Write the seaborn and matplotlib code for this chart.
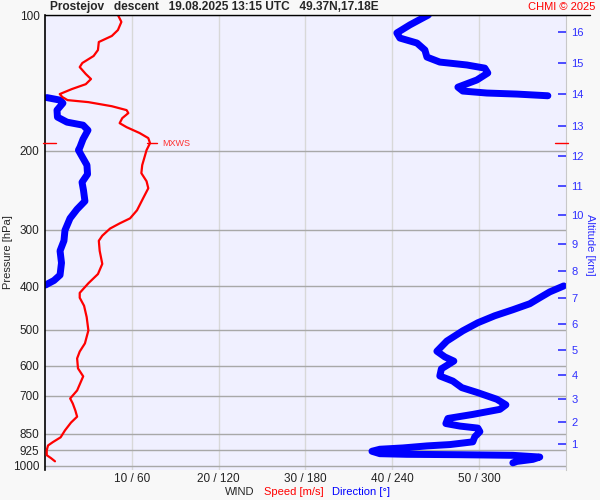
import numpy as np
import pandas as pd
import seaborn as sns
import matplotlib.pyplot as plt
from matplotlib.lines import Line2D
from matplotlib.ticker import FixedLocator, NullLocator

# header info
station = "Prostejov"
kind = "descent"
stamp = "19.08.2025 13:15 UTC"
position = "49.37N,17.18E"

# wind speed profile
speed_p = [100, 103.6, 108, 111.3, 114.8, 119.6, 123.3, 127.8, 130.5, 135.2,
           138.7, 142.4, 146.0, 149.8, 152.1, 154.5, 156.1, 159.4, 162.6, 165.1,
           169.4, 173.8, 177.4, 182.8, 187.6, 192.5, 199.5, 215.4, 224.4, 233.9,
           242.4, 255.2, 271.3, 282.7, 290.1, 297.8, 308.9, 317.0, 333.8, 356.8,
           375.8, 393.9, 413.8, 424.2, 441.9, 468.2, 501.2, 535.6, 558.4, 578.4,
           608.5, 633.9, 681.3, 709.8, 728.4, 755.2, 779.0, 802.6, 835.6, 865.6,
           887.3, 902.4, 924.6, 948.4, 963.1, 978.5]
speed_ms = [8.4, 8.8, 8.4, 7.7, 6.2, 6.1, 5.6, 4.3, 4.0, 4.7,
            5.3, 4.7, 3.1, 1.7, 2.0, 2.6, 5.0, 7.7, 9.4, 9.6,
            8.9, 8.6, 9.4, 10.9, 11.9, 12.1, 11.7, 11.2, 11.1, 11.7,
            11.9, 11.3, 10.6, 9.8, 8.6, 7.5, 6.6, 6.2, 6.3, 6.6,
            6.1, 5.0, 4.0, 4.0, 4.5, 4.8, 5.0, 4.6, 4.0, 3.7,
            3.8, 4.4, 3.7, 2.9, 3.2, 3.5, 3.7, 3.0, 2.3, 1.8,
            0.9, 0.35, 0.2, 0.2, 0.7, 1.15]

# wind direction profile
dir_p = [100, 101.5, 105.2, 109.6, 112.5, 115.4, 119.6, 124.0, 127.2, 129.1,
         131.2, 134.5, 139.4, 144.6, 147.5, 149.0, 149.8, 151.1,
         152.5, 154.5, 156.9, 162.6, 168.5, 172.9, 175.6, 180.2, 188.6, 196.4,
         199.5, 215.4, 225.6, 235.1, 244.9, 258.9, 270.0, 282.7, 300.6, 317.0,
         333.8, 354.9, 377.7, 388.4, 397.5,
         399.3, 411.7, 424.2, 437.4, 451.0, 465.1, 482.0, 502.3, 529.2, 557.6,
         574.0, 586.3, 610.0, 632.7, 649.4, 671.5, 689.1, 712.6, 733.2, 750.4,
         770.0, 786.1, 806.8, 817.3, 825.8, 840.9, 863.1, 885.9, 898.3, 904.5,
         913.9, 920.0, 929.6, 941.2, 944.2, 946.1, 949.1, 957.4, 968.9, 979.1,
         986.3]
dir_deg = [265, 261.2, 252.2, 243.2, 245.3, 257.1, 262.6, 264.0, 272.9, 291.6,
           304.0, 306.1, 298.5, 285.4, 288.8, 305.4, 326.2, 347.6,
           1.2, 10.4, 12.4, 8.3, 8.6, 15.2, 26.3, 29.7, 26.3, 24.2,
           23.1, 29.0, 29.4, 25.6, 26.6, 27.6, 22.1, 17.3, 13.8, 13.1,
           10.4, 11.4, 10.4, 6.2, 0.3,
           358.6, 348.9, 342.0, 335.1, 323.4, 310.9, 299.2, 288.8, 277.8, 270.9,
           276.4, 282.6, 274.0, 272.9, 281.9, 288.1, 299.2, 312.3, 318.6, 314.4,
           295.7, 278.5, 277.1, 286.8, 299.2, 300.6, 297.1, 295.7, 279.9, 264.0,
           247.4, 231.5, 226.0, 231.5, 250.1, 286.8, 323.4, 342.0, 337.2, 326.2,
           323.4]

p_levels = [100, 200, 300, 400, 500, 600, 700, 850, 925, 1000]
dir_ticks = [60, 120, 180, 240, 300]
wind_labels = ["10 / 60", "20 / 120", "30 / 180", "40 / 240", "50 / 300"]
alt_km = list(range(1, 17))
alt_p = [897, 802, 710, 628, 553, 486, 425, 370, 323, 278, 240, 206, 176, 150, 128, 109]

sns.set_style("white", {"axes.facecolor": "#f0f0ff", "figure.facecolor": "#f8f8f8"})
plt.rcParams['font.family'] = ['Liberation Sans', 'DejaVu Sans']

fig = plt.figure(figsize=(6, 5), dpi=100)
ax = fig.add_axes([0.075, 0.06, 0.868, 0.91])
p_bottom = 1023

# direction on main axes (0..360), split where it wraps around north
dir_df = pd.DataFrame({"p": dir_p, "deg": dir_deg})
dir_df["seg"] = (dir_df["deg"].diff().abs() > 180).cumsum()
ax.set_yscale("log")
sns.lineplot(data=dir_df, x="deg", y="p", units="seg", estimator=None, sort=False,
             color="#0000ff", lw=5, solid_capstyle="round", solid_joinstyle="round",
             ax=ax, legend=False)
ax.set_xlim(0, 360)
ax.set_ylim(p_bottom, 100)
ax.yaxis.set_major_locator(FixedLocator(p_levels))
ax.yaxis.set_minor_locator(NullLocator())
ax.set_yticklabels([str(p) for p in p_levels])
ax.set_xticks(dir_ticks)
ax.set_xticklabels(wind_labels)
ax.tick_params(axis="both", length=0, labelsize=8.5, colors="#222222")
ax.tick_params(axis="y", pad=4)
ax.tick_params(axis="x", pad=2)
ax.set_xlabel("")
ax.set_ylabel("")
ax.set_axisbelow(True)
ax.grid(axis="x", color="#d8d8d8", lw=1)
ax.grid(axis="y", color="#a8a8a8", lw=1)
for s in ["top", "bottom"]:
    ax.spines[s].set_visible(False)
ax.spines["left"].set_color("black")
ax.spines["left"].set_linewidth(1.2)
ax.spines["right"].set_color("#c8c8c8")

# speed on a twin axes (0..60 m/s)
ax2 = ax.twiny()
sns.lineplot(x=speed_ms, y=speed_p, sort=False, estimator=None, color="#ff0000",
             lw=1.6, ax=ax2)
ax2.set_xlim(0, 60)
ax2.set_ylim(p_bottom, 100)
ax2.set_xticks([])
for s in ax2.spines.values():
    s.set_visible(False)

# max wind marker
imax = int(np.argmax(speed_ms))
vmax, pmax = speed_ms[imax], speed_p[imax]
ax2.plot([vmax - 0.4, vmax + 0.8], [pmax, pmax], color="#ff0000", lw=1, clip_on=False)
ax2.plot([-0.2, 1.3], [pmax, pmax], color="#ff0000", lw=1, clip_on=False)
ax2.plot([58.7, 60.2], [pmax, pmax], color="#ff0000", lw=1, clip_on=False)
ax2.text(vmax + 1.4, pmax, "MXWS", color="#ff3030", fontsize=6.5, va="center", ha="left")

# altitude axis
ax3 = ax.twinx()
ax3.set_yscale("log")
ax3.set_ylim(p_bottom, 100)
ax3.yaxis.set_major_locator(FixedLocator(alt_p))
ax3.yaxis.set_minor_locator(NullLocator())
ax3.set_yticklabels([str(k) for k in alt_km])
ax3.tick_params(axis="y", direction="in", length=6, width=1.2, color="#3030ff",
                labelcolor="#3030ff", labelsize=8, pad=4)
for s in ax3.spines.values():
    s.set_visible(False)

# frame line on top and texts
fig.add_artist(Line2D([0.075, 0.983], [0.97, 0.97], color="black", lw=1))
fig.text(0.083, 0.986, f"{station}   {kind}   {stamp}   {position}",
         fontsize=8.6, fontweight="bold", va="center", ha="left")
fig.text(0.993, 0.986, "CHMI © 2025", color="#ff0000", fontsize=8, va="center", ha="right")
fig.text(0.013, 0.496, "Pressure [hPa]", rotation=90, fontsize=8, va="center", ha="center")
fig.text(0.983, 0.51, "Altitude [km]", rotation=270, fontsize=8, color="#3030ff",
         va="center", ha="center")
fig.text(0.375, 0.016, "WIND", fontsize=8, va="center", ha="left")
fig.text(0.44, 0.016, "Speed [m/s]", fontsize=8, color="#ff0000", va="center", ha="left")
fig.text(0.553, 0.016, "Direction [°]", fontsize=8, color="#0000ff", va="center", ha="left")

fig.savefig("out.png", dpi=100, facecolor=fig.get_facecolor())
